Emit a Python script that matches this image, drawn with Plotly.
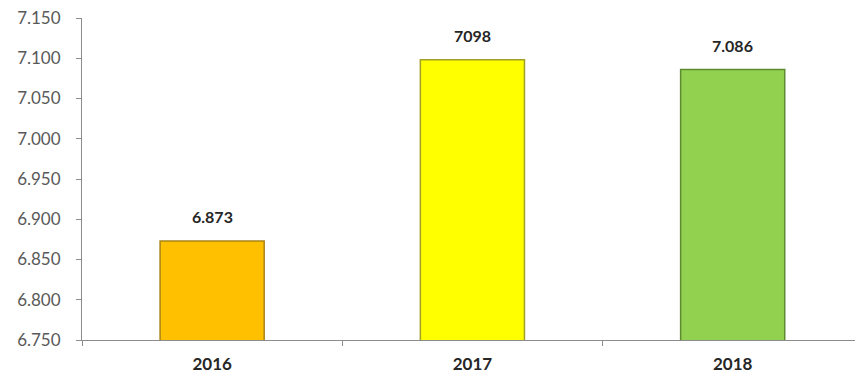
import plotly.graph_objects as go

years = ["2016", "2017", "2018"]
values = [6873, 7098, 7086]
labels = ["6.873", "7098", "7.086"]
colors = ["#FFC000", "#FFFF00", "#92D050"]
borders = ["#A88418", "#A0A028", "#5E8A30"]
tick_vals = [6750, 6800, 6850, 6900, 6950, 7000, 7050, 7100, 7150]

fig = go.Figure()
fig.add_trace(go.Bar(
    x=years, y=values, width=0.4,
    marker=dict(color=colors, line=dict(color=borders, width=1.5)),
    hoverinfo="skip",
))

for i, (v, t) in enumerate(zip(values, labels)):
    fig.add_annotation(x=i, y=v, text="<b>%s</b>" % t, showarrow=False,
                       xref="x", yref="y",
                       yanchor="bottom", yshift=13,
                       font=dict(family="Lato, Open Sans, sans-serif", size=16, color="#262626"))

fig.update_layout(
    width=855, height=375,
    margin=dict(l=82, r=0, t=18, b=35),
    paper_bgcolor="white", plot_bgcolor="white",
    separators=",.",
    showlegend=False,
)
fig.update_xaxes(
    type="category", range=[-0.5, 2.47], automargin=False,
    showline=True, linecolor="#8C8C8C", linewidth=1,
    ticks="outside", tickson="boundaries", ticklen=5, tickcolor="#8C8C8C",
    showgrid=False, ticklabelstandoff=9,
    tickfont=dict(family="Lato, Open Sans, sans-serif", size=17, color="#262626", weight="bold"),
)
fig.update_yaxes(
    range=[6750, 7150], tickvals=tick_vals, tickformat=",d", automargin=False,
    showline=True, linecolor="#8C8C8C", linewidth=1,
    ticks="outside", ticklen=5, tickcolor="#8C8C8C",
    showgrid=False, zeroline=False, ticklabelstandoff=12,
    tickfont=dict(family="Lato, Open Sans, sans-serif", size=17, color="#595959"),
)

fig.write_html("out.html", config={"displayModeBar": False},
               post_script="document.body.style.margin='0';document.body.style.overflow='hidden';")
